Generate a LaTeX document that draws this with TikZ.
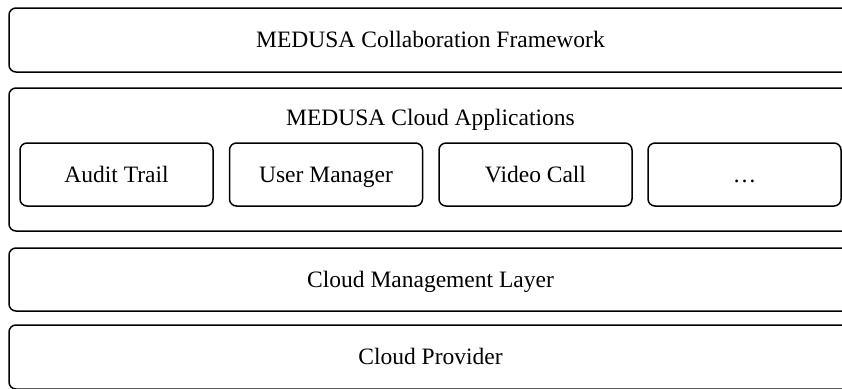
\documentclass[tikz,border=0pt]{standalone}
\usepackage{fontspec}
\setmainfont{Liberation Serif}
\begin{document}
\begin{tikzpicture}[x=1pt,y=-1pt,
  txt/.style={font=\fontsize{23.5}{28}\selectfont,text height=15.6pt,text depth=0pt},
  layer/.style={txt,draw=black,line width=1.5pt,rounded corners=7pt,fill=white,
    minimum width=843pt,inner sep=0pt},
  appbox/.style={txt,draw=black,line width=1.5pt,rounded corners=7pt,fill=white,
    minimum width=193pt,minimum height=63pt,inner sep=0pt},
  title/.style={inner sep=0pt,font=\fontsize{23.5}{28}\selectfont}]
\useasboundingbox (0,0) rectangle (842,388);
\node[layer,minimum height=64pt] (collab) at (430.5,40) {MEDUSA Collaboration Framework};
\node[layer,minimum height=143pt] (apps) at (430.5,159.5) {};
\node[title,anchor=base] (appstitle) at (430.5,125) {MEDUSA Cloud Applications};
\node[appbox] (audit) at (116.5,174.5) {Audit Trail};
\node[appbox] (user) at (326,174.5) {User Manager};
\node[appbox] (video) at (535.5,174.5) {Video Call};
\node[appbox] (more) at (744.5,174.5) {…};
\node[layer,minimum height=63pt] (mgmt) at (430.5,279.5) {Cloud Management Layer};
\node[layer,minimum height=64pt] (provider) at (430.5,357) {Cloud Provider};
\end{tikzpicture}
\end{document}
